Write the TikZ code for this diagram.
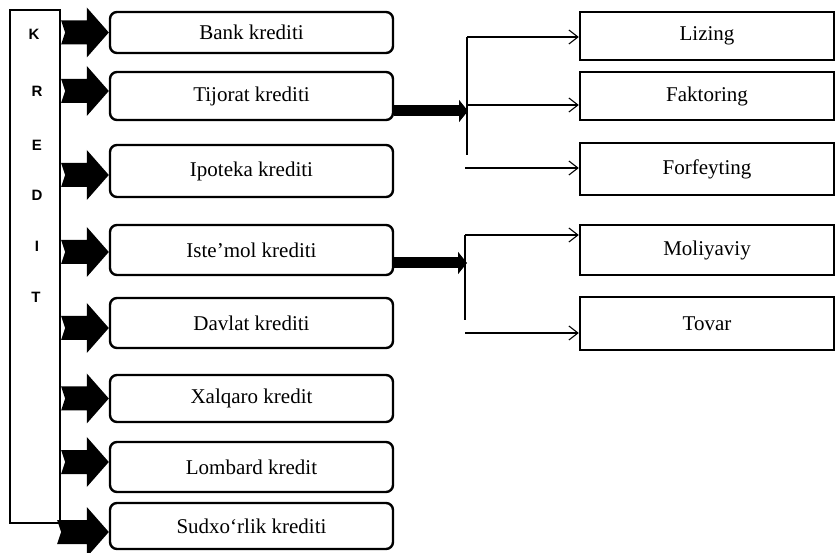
\documentclass[tikz,border=0pt]{standalone}
\usepackage{fontspec}
\setmainfont{Liberation Serif}
\newfontfamily\letterfont{Liberation Sans}
\usetikzlibrary{calc,arrows.meta}
\begin{document}
\begin{tikzpicture}[x=1pt,y=-1pt,
  lbox/.style={draw,line width=2.4pt,rounded corners=7pt,minimum width=283pt,inner sep=0pt,font=\fontsize{21}{24}\selectfont},
  rbox/.style={draw,line width=2.4pt,minimum width=254pt,inner sep=0pt,font=\fontsize{21}{24}\selectfont},
  letter/.style={font=\letterfont\bfseries\fontsize{15}{18}\selectfont,inner sep=0pt},
  blockarrow/.default=0pt,
  blockarrow/.style={to path={let \p1=(\tikztostart),\p2=(\tikztotarget) in
    ({\x1},{\y2+#1+12pt}) -- ({\x2-22pt},{\y2+#1+12pt}) -- ({\x2-22pt},{\y2+#1+25pt})
    -- ({\x2},{\y2+#1}) -- ({\x2-22pt},{\y2+#1-25pt}) -- ({\x2-22pt},{\y2+#1-12pt})
    -- ({\x1},{\y2+#1-12pt}) -- ({\x1+4pt},{\y2+#1}) -- cycle}},
  thickarrow/.style={line width=11pt,-{Triangle[length=9pt,width=22pt]}},
  thinline/.style={line width=1.1pt},
  thinarrow/.style={thinline,-{Straight Barb[length=9pt,width=14pt]}}
]
\useasboundingbox (0,0) rectangle (836,553);

% left vertical box
\node[draw,line width=2.2pt,minimum width=50pt,minimum height=513pt,inner sep=0pt] (K) at (35,266.5) {};
\node[letter] (lK) at (34,34) {K};
\node[letter] (lR) at (37,91) {R};
\node[letter] (lE) at (37,145) {E};
\node[letter] (lD) at (37,195) {D};
\node[letter] (lI) at (37,246) {I};
\node[letter] (lT) at (36,297) {T};

% left boxes
\node[lbox,minimum height=41pt] (b1) at (251.5,32.5) {Bank krediti};
\node[lbox,minimum height=48pt] (b2) at (251.5,96) {Tijorat krediti};
\node[lbox,minimum height=52pt] (b3) at (251.5,171) {Ipoteka krediti};
\node[lbox,minimum height=50pt] (b4) at (251.5,250) {Iste’mol krediti};
\node[lbox,minimum height=50pt] (b5) at (251.5,323) {Davlat krediti};
\node[lbox,minimum height=47pt] (b6) at (251.5,398.5) {Xalqaro kredit};
\node[lbox,minimum height=50pt] (b7) at (251.5,467) {Lombard kredit};
\node[lbox,minimum height=46pt] (b8) at (251.5,526) {Sudxo‘rlik krediti};

% block arrows
\fill (K.east |- b1.west) to[blockarrow=0pt] (b1.west);
\fill (K.east |- b2.west) to[blockarrow=5pt] (b2.west);
\fill (K.east |- b3.west) to[blockarrow=-4pt] (b3.west);
\fill (K.east |- b4.west) to[blockarrow=-2pt] (b4.west);
\fill (K.east |- b5.west) to[blockarrow=-5pt] (b5.west);
\fill (K.east |- b6.west) to[blockarrow=0pt] (b6.west);
\fill (K.east |- b7.west) to[blockarrow=5pt] (b7.west);
\fill ([xshift=-4pt]K.south east |- b8.west) to[blockarrow=-6pt] (b8.west);

% right boxes
\node[rbox,minimum height=48pt] (liz) at (707,36) {Lizing};
\node[rbox,minimum height=48pt] (fak) at (707,96) {Faktoring};
\node[rbox,minimum height=52pt] (for) at (707,169) {Forfeyting};
\node[rbox,minimum height=50pt] (mol) at (707,250) {Moliyaviy};
\node[rbox,minimum height=53pt] (tov) at (707,323.5) {Tovar};

% first branching
\coordinate (v1top) at (467,37);
\coordinate (v1bot) at (467,155);
\coordinate (j1) at (468,111);
\coordinate (f1) at (467,105);
\coordinate (s1) at (465,168);
\draw[thickarrow] (b2.east |- j1) -- (j1);
\draw[thinline] (v1top) -- (v1bot);
\draw[thinarrow] (v1top) -- (liz.west |- v1top);
\draw[thinarrow] (f1) -- (fak.west |- f1);
\draw[thinarrow] (s1) -- (for.west |- s1);

% second branching
\coordinate (v2top) at (465,235);
\coordinate (v2bot) at (465,320);
\coordinate (j2) at (467,263);
\coordinate (s2) at (465,333);
\draw[thickarrow] (b4.east |- j2) -- (j2);
\draw[thinline] (v2top) -- (v2bot);
\draw[thinarrow] (v2top) -- (mol.west |- v2top);
\draw[thinarrow] (s2) -- (tov.west |- s2);
\end{tikzpicture}
\end{document}
